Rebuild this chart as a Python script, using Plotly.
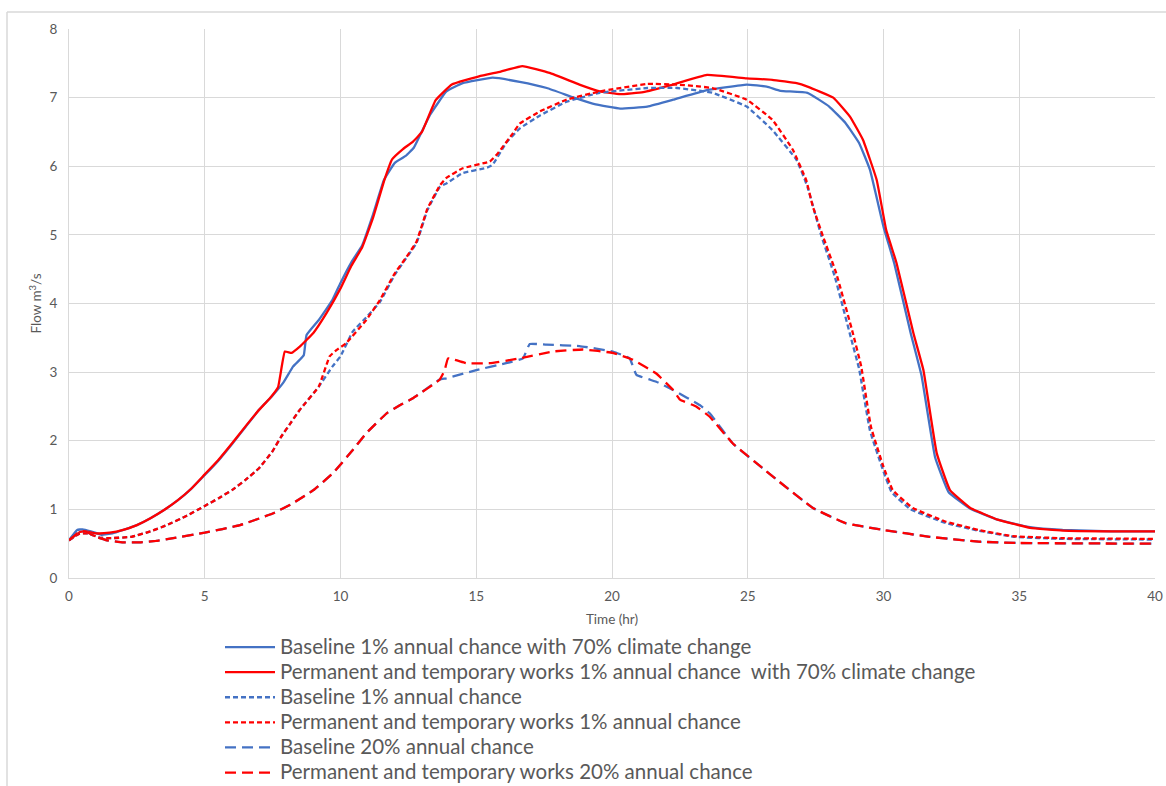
import plotly.graph_objects as go

# ---- data ----
t_base_cc = [0, 0.3, 0.5, 0.8, 1.2, 1.6, 2, 2.5, 3, 3.5, 4, 4.5, 5, 5.5, 6, 6.5, 7, 7.5, 7.9, 8.25, 8.5, 8.65, 8.75,
             9.2, 9.7, 10, 10.4, 10.8, 11.2, 11.6, 12, 12.4, 12.7, 13.3, 13.9, 14.5, 15.6, 16.6, 17.6, 18.6, 19.4,
             20.3, 21.3, 22.25, 23.5, 24.96, 25.7, 26.2, 27.2, 28.0, 28.6, 29.1, 29.5, 30.0, 30.4, 31.0, 31.4,
             31.9, 32.4, 33.2, 34.2, 35.4, 36.6, 38.4, 40]
q_base_cc = [0.55, 0.70, 0.71, 0.68, 0.63, 0.65, 0.70, 0.77, 0.87, 0.99, 1.13, 1.30, 1.50, 1.71, 1.95, 2.20, 2.45,
             2.66, 2.85, 3.08, 3.18, 3.25, 3.54, 3.76, 4.05, 4.30, 4.60, 4.85, 5.30, 5.80, 6.05, 6.15, 6.27, 6.75,
             7.09, 7.21, 7.29, 7.23, 7.14, 7.00, 6.90, 6.84, 6.87, 6.97, 7.11, 7.19, 7.16, 7.10, 7.07, 6.87, 6.63,
             6.34, 5.95, 5.12, 4.58, 3.57, 2.95, 1.76, 1.25, 1.01, 0.85, 0.74, 0.70, 0.68, 0.68]

t_works_cc = [0, 0.4, 0.6, 1.0, 1.5, 2, 2.5, 3, 3.5, 4, 4.5, 5, 5.5, 6, 6.5, 7, 7.4, 7.7, 7.95, 8.2, 8.5, 9.0, 9.5,
              10, 10.4, 10.8, 11.2, 11.6, 11.9, 12.3, 12.67, 13.0, 13.5, 14.1, 15.1, 15.9, 16.7, 17.7, 18.8, 19.55,
              20.3, 21.15, 22.25, 23.5, 24.96, 25.9, 26.8, 27.2, 28.15, 28.77, 29.25, 29.75, 30.1, 30.48, 31.1,
              31.47, 31.96, 32.45, 33.2, 34.2, 35.4, 36.6, 38.4, 40]
q_works_cc = [0.55, 0.67, 0.68, 0.65, 0.66, 0.70, 0.77, 0.87, 0.99, 1.13, 1.30, 1.51, 1.72, 1.96, 2.21, 2.45, 2.62,
              2.78, 3.30, 3.28, 3.37, 3.57, 3.87, 4.22, 4.55, 4.82, 5.25, 5.78, 6.10, 6.25, 6.36, 6.50, 6.96, 7.19,
              7.31, 7.38, 7.46, 7.36, 7.19, 7.09, 7.05, 7.08, 7.19, 7.33, 7.28, 7.26, 7.21, 7.16, 7.00, 6.72, 6.38,
              5.80, 5.07, 4.59, 3.57, 3.03, 1.82, 1.28, 1.02, 0.85, 0.73, 0.69, 0.68, 0.68]

t_base_1 = [0, 0.4, 0.7, 1.1, 1.5, 2.3, 3, 3.6, 4.3, 5, 5.5, 6, 6.5, 7, 7.5, 7.8, 8.2, 8.5, 9.2, 9.7, 10, 10.45, 11,
            11.45, 12.0, 12.4, 12.8, 13.2, 13.66, 13.9, 14.5, 15.4, 15.6, 16.1, 16.6, 17.35, 18.33, 19.55, 21.3,
            22.4, 23.7, 24.96, 25.9, 26.8, 27.2, 27.7, 28.2, 28.8, 29.1, 29.5, 30.0, 30.3, 31.0, 32.3, 33.5, 34.8,
            36.6, 40]
q_base_1 = [0.55, 0.65, 0.65, 0.59, 0.58, 0.60, 0.68, 0.77, 0.90, 1.05, 1.16, 1.28, 1.43, 1.60, 1.85, 2.05, 2.28,
            2.45, 2.79, 3.08, 3.23, 3.59, 3.82, 4.02, 4.42, 4.65, 4.88, 5.36, 5.70, 5.75, 5.90, 5.98, 6.02, 6.34,
            6.55, 6.74, 6.94, 7.07, 7.14, 7.14, 7.07, 6.87, 6.53, 6.09, 5.70, 5.00, 4.40, 3.50, 3.05, 2.15, 1.55,
            1.25, 1.00, 0.80, 0.69, 0.60, 0.57, 0.56]

t_works_1 = [0, 0.4, 0.7, 1.1, 1.5, 2.3, 3, 3.6, 4.3, 5, 5.5, 6, 6.5, 7, 7.5, 7.8, 8.2, 8.5, 9.2, 9.6, 9.85, 10.2,
             10.95, 11.45, 12.0, 12.4, 12.8, 13.2, 13.66, 13.9, 14.5, 15.5, 15.8, 16.35, 16.6, 17.35, 18.33, 19.55,
             21.3, 22.4, 23.7, 24.96, 25.9, 26.66, 27.15, 27.4, 27.77, 28.26, 28.87, 29.18, 29.54, 30.0, 30.34,
             31.08, 32.3, 33.5, 34.76, 36.6, 40]
q_works_1 = [0.55, 0.65, 0.65, 0.59, 0.58, 0.60, 0.68, 0.77, 0.90, 1.05, 1.16, 1.28, 1.43, 1.60, 1.85, 2.05, 2.28,
             2.45, 2.79, 3.23, 3.32, 3.42, 3.76, 4.05, 4.44, 4.66, 4.90, 5.38, 5.72, 5.83, 5.97, 6.07, 6.19, 6.48,
             6.62, 6.80, 6.97, 7.09, 7.20, 7.19, 7.14, 6.97, 6.68, 6.24, 5.80, 5.41, 4.98, 4.44, 3.57, 3.08, 2.20,
             1.62, 1.28, 1.02, 0.82, 0.70, 0.61, 0.58, 0.57]

t_base_20 = [0, 0.4, 0.6, 1.0, 1.4, 2, 2.6, 3.2, 3.84, 5, 6.3, 7.5, 8.25, 9, 9.73, 10.46, 10.95, 11.7, 12.2, 12.67,
             13.65, 13.9, 15, 16.1, 16.72, 16.97, 17.58, 18.8, 20.03, 20.65, 20.9, 21.63, 22.25, 23.23, 23.6, 24.45,
             25.55, 26.17, 27.4, 28.6, 30, 31.7, 33.5, 35, 40]
q_base_20 = [0.55, 0.68, 0.68, 0.60, 0.55, 0.52, 0.52, 0.54, 0.58, 0.66, 0.77, 0.94, 1.09, 1.28, 1.53, 1.87, 2.11,
             2.40, 2.52, 2.62, 2.89, 2.91, 3.03, 3.13, 3.20, 3.41, 3.40, 3.38, 3.30, 3.20, 2.96, 2.86, 2.74, 2.52,
             2.40, 1.96, 1.60, 1.40, 1.02, 0.80, 0.70, 0.60, 0.53, 0.51, 0.50]

t_works_20 = [0, 0.4, 0.6, 1.0, 1.4, 2, 2.6, 3.2, 3.84, 5, 6.3, 7.5, 8.25, 9, 9.73, 10.46, 10.95, 11.7, 12.2, 12.67,
              13.65, 13.84, 13.96, 14.64, 15.5, 16.6, 17.8, 18.93, 20.03, 20.77, 21.63, 22.25, 22.5, 23.1, 23.6,
              24.45, 25.55, 26.17, 27.4, 28.6, 30, 31.7, 33.5, 35, 40]
q_works_20 = [0.55, 0.68, 0.68, 0.60, 0.55, 0.52, 0.52, 0.54, 0.58, 0.66, 0.77, 0.94, 1.09, 1.28, 1.53, 1.87, 2.11,
              2.40, 2.52, 2.62, 2.89, 3.03, 3.20, 3.13, 3.13, 3.20, 3.30, 3.33, 3.28, 3.18, 2.98, 2.74, 2.60, 2.50,
              2.35, 1.96, 1.60, 1.40, 1.02, 0.80, 0.70, 0.60, 0.53, 0.51, 0.50]

names = [
    "Baseline 1% annual chance with 70% climate change",
    "Permanent and temporary works 1% annual chance  with 70% climate change",
    "Baseline 1% annual chance",
    "Permanent and temporary works 1% annual chance",
    "Baseline 20% annual chance",
    "Permanent and temporary works 20% annual chance",
]
x_ticks = [0, 5, 10, 15, 20, 25, 30, 35, 40]
y_ticks = [0, 1, 2, 3, 4, 5, 6, 7, 8]

BLUE = "#4472C4"
RED = "#FF0000"
GRID = "#D9D9D9"
TXT = "#595959"
FONT = "Lato, Open Sans, sans-serif"

series = [
    (t_base_cc, q_base_cc, BLUE, "solid"),
    (t_works_cc, q_works_cc, RED, "solid"),
    (t_base_1, q_base_1, BLUE, "5px,3px"),
    (t_works_1, q_works_1, RED, "5px,3px"),
    (t_base_20, q_base_20, BLUE, "11px,6px"),
    (t_works_20, q_works_20, RED, "11px,6px"),
]

fig = go.Figure()
for (t, q, c, d), n in zip(series, names):
    label = '<span style="font-size:20.5px">' + n.replace("  ", "&nbsp; ") + "</span>"
    fig.add_trace(go.Scatter(x=t, y=q, mode="lines", name=label,
                             line=dict(color=c, width=2.3, dash=d, shape="spline", smoothing=0.3)))

W, H = 1166, 786
ML, MR, MT, MB = 69, 11, 29, 208
PW, PH = W - ML - MR, H - MT - MB

def px2paper_x(px):
    return (px - ML) / PW

def px2paper_y(py):
    return (H - MB - py) / PH

fig.update_layout(
    width=W, height=H,
    margin=dict(l=ML, r=MR, t=MT, b=MB, autoexpand=False),
    paper_bgcolor="white", plot_bgcolor="white",
    font=dict(family=FONT, color=TXT, size=13.5),
    showlegend=True,
    legend=dict(
        orientation="v",
        x=px2paper_x(220), y=px2paper_y(629.5), xanchor="left", yanchor="top",
        font=dict(size=17, color=TXT, family=FONT), itemwidth=50, tracegroupgap=0,
        bgcolor="rgba(0,0,0,0)",
    ),
    xaxis=dict(range=[0, 40], tickvals=x_ticks, showgrid=True, gridcolor=GRID, gridwidth=1,
               showline=True, linecolor=GRID, linewidth=1, zeroline=False,
               ticks="outside", ticklen=6, tickcolor="rgba(0,0,0,0)",
               title=dict(text="Time (hr)", font=dict(size=13.5, color=TXT), standoff=11),
               tickfont=dict(size=13.5, color=TXT)),
    yaxis=dict(range=[0, 8], tickvals=y_ticks, showgrid=True, gridcolor=GRID, gridwidth=1,
               showline=True, linecolor=GRID, linewidth=1, zeroline=False,
               ticks="outside", ticklen=8, tickcolor="rgba(0,0,0,0)",
               title=dict(text="Flow m<sup>3</sup>/s", font=dict(size=13.5, color=TXT), standoff=4),
               tickfont=dict(size=13.5, color=TXT)),
    shapes=[
        dict(type="line", xref="paper", yref="paper", x0=px2paper_x(7), x1=px2paper_x(W + 5),
             y0=px2paper_y(12), y1=px2paper_y(12), line=dict(color=GRID, width=1.5)),
        dict(type="line", xref="paper", yref="paper", x0=px2paper_x(7), x1=px2paper_x(7),
             y0=px2paper_y(12), y1=px2paper_y(H + 5), line=dict(color=GRID, width=1.5)),
    ],
)

# remove the default 8px page margin so the figure fills the 1166x786 window exactly
fig.write_html(
    "out.html",
    config={"displayModeBar": False},
    post_script="document.body.style.margin='0';"
                "document.documentElement.style.overflow='hidden';"
                "document.body.style.overflow='hidden';",
)
